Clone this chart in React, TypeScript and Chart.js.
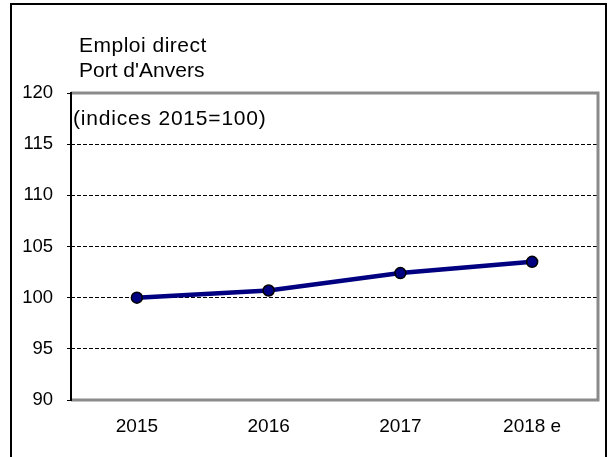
import React, { useEffect, useRef } from "react";
import { Chart, registerables } from "chart.js";

Chart.register(...registerables);

const categories = ["2015", "2016", "2017", "2018 e"];
const values = [100, 100.7, 102.4, 103.5];
const yTicks = [90, 95, 100, 105, 110, 115, 120];
const titleLines = ["Emploi direct", "Port d'Anvers"];
const note = "(indices 2015=100)";

const FONT = "'Liberation Sans', Arial, sans-serif";

export default function App() {
  const ref = useRef<HTMLCanvasElement>(null);

  useEffect(() => {
    if (!ref.current) return;

    const frame = {
      id: "frame",
      beforeDraw(chart: any) {
        const ctx = chart.ctx;
        ctx.save();
        ctx.fillStyle = "#fff";
        ctx.fillRect(0, 0, chart.width, chart.height);
        ctx.strokeStyle = "#000";
        ctx.lineWidth = 2;
        ctx.strokeRect(11, 4, chart.width - 20, chart.height + 20);
        ctx.restore();
      },
      beforeDatasetsDraw(chart: any) {
        const ctx = chart.ctx;
        const { left, right, top, bottom } = chart.chartArea;
        ctx.save();
        ctx.strokeStyle = "#8a8a8a";
        ctx.lineWidth = 3;
        ctx.beginPath();
        ctx.moveTo(left, top);
        ctx.lineTo(right, top);
        ctx.lineTo(right, bottom);
        ctx.lineTo(left, bottom);
        ctx.stroke();
        ctx.strokeStyle = "#000";
        ctx.lineWidth = 2;
        ctx.beginPath();
        ctx.moveTo(left, top - 1);
        ctx.lineTo(left, bottom + 1);
        ctx.stroke();
        ctx.restore();
      },
      afterDraw(chart: any) {
        const ctx = chart.ctx;
        const { left, top } = chart.chartArea;
        ctx.save();
        ctx.fillStyle = "#000";
        ctx.textAlign = "left";
        ctx.textBaseline = "alphabetic";
        ctx.font = `21px ${FONT}`;
        (ctx as any).letterSpacing = "0.5px";
        ctx.fillText(titleLines[0], left + 8, top - 41);
        (ctx as any).letterSpacing = "0px";
        ctx.fillText(titleLines[1], left + 8, top - 16);
        (ctx as any).letterSpacing = "0.8px";
        ctx.fillText(note, left + 2, top + 32);
        ctx.restore();
      },
    };

    const chart = new Chart(ref.current, {
      type: "line",
      data: {
        labels: categories,
        datasets: [
          {
            data: values,
            borderColor: "#000080",
            borderWidth: 4.5,
            pointRadius: 5.5,
            pointBackgroundColor: "#000080",
            pointBorderColor: "#000",
            pointBorderWidth: 1.5,
            tension: 0,
          },
        ],
      },
      options: {
        responsive: false,
        animation: false,
        layout: { padding: { top: 93, right: 17, left: 0, bottom: 0 } },
        plugins: {
          legend: { display: false },
          tooltip: { enabled: false },
        },
        scales: {
          x: {
            offset: true,
            grid: { display: false, drawTicks: false },
            border: { display: false },
            ticks: {
              color: "#000",
              font: { family: FONT, size: 19 },
              padding: 15,
              maxRotation: 0,
            },
            afterFit: (s: any) => {
              s.height = 57;
            },
          },
          y: {
            min: 90,
            max: 120,
            afterBuildTicks: (s: any) => {
              s.ticks = yTicks.map((v) => ({ value: v }));
            },
            grid: {
              color: (c: any) =>
                c.tick && (c.tick.value === 90 || c.tick.value === 120)
                  ? "rgba(0,0,0,0)"
                  : "#000",
              lineWidth: 1,
              tickColor: "#000",
              tickLength: 4,
              tickWidth: 1,
              tickBorderDash: [],
            },
            border: { display: false, dash: [4, 2] },
            ticks: {
              color: "#000",
              font: { family: FONT, size: 18.5 },
              padding: 14,
            },
            afterFit: (s: any) => {
              s.width = 71;
            },
          },
        },
      },
      plugins: [frame],
    });

    return () => chart.destroy();
  }, []);

  return (
    <div
      style={{
        position: "absolute",
        left: 0,
        top: 0,
        width: 615,
        height: 457,
        background: "#fff",
        overflow: "hidden",
      }}
    >
      <canvas ref={ref} width={615} height={457} style={{ display: "block" }} />
    </div>
  );
}
